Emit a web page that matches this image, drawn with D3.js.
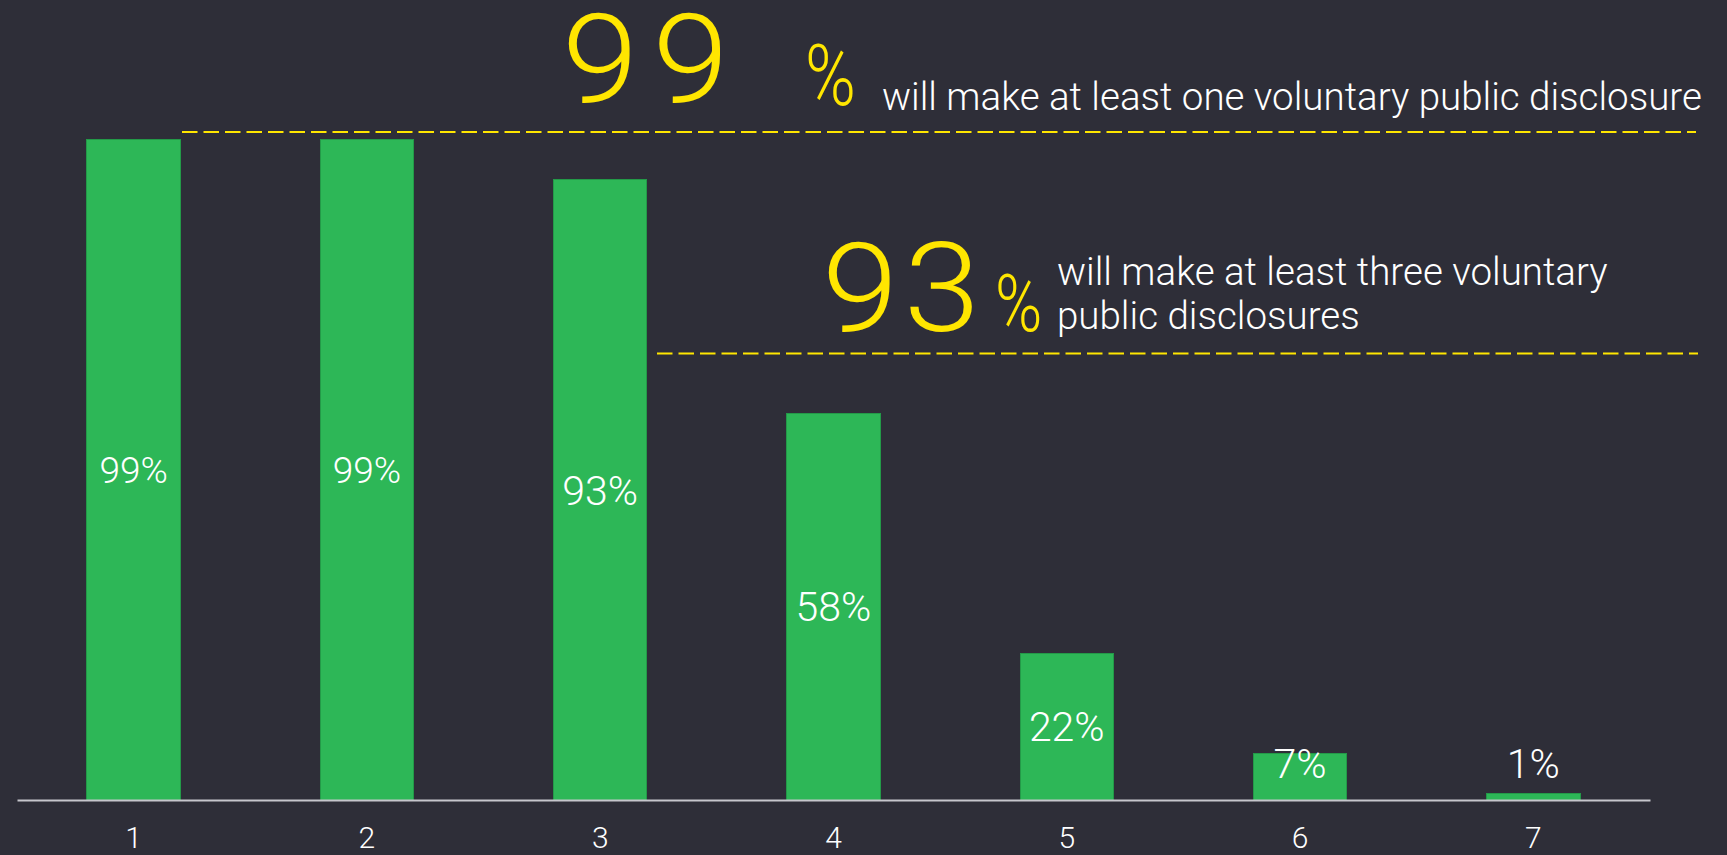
<!DOCTYPE html>
<html>
<head>
<meta charset="utf-8">
<script src="https://cdn.jsdelivr.net/npm/d3@7"></script>
<style>
  html, body { margin: 0; padding: 0; background: #2e2e38; }
  svg { display: block; }
  text { font-family: Roboto, "Liberation Sans", sans-serif; }
</style>
</head>
<body>
<svg id="chart" width="1727" height="855"></svg>
<script>
// Number of voluntary public disclosures (category) and share of companies making them
const categories = ["1", "2", "3", "4", "5", "6", "7"];
const shares = [99, 99, 93, 58, 22, 7, 1];

// Callout figures and their captions
const calloutValues = [99, 93];
const calloutTexts = [
  ["will make at least one voluntary public disclosure"],
  ["will make at least three voluntary", "public disclosures"]
];

const W = 1727, H = 855;
const BG = "#2e2e38", GREEN = "#2db757", YELLOW = "#ffe600", AXIS = "#c6c6cc", WHITE = "#ffffff";

const svg = d3.select("#chart");
svg.append("rect").attr("width", W).attr("height", H).attr("fill", BG);

const baseY = 800;
const x = d3.scaleBand().domain(categories).range([17, 1650]).paddingInner(0.6).paddingOuter(0.3);
const y = d3.scaleLinear().domain([0, 100]).range([baseY, baseY - 666.7]);

const rows = categories.map((c, i) => ({ c, v: shares[i] }));
const labelSize = v => (v >= 99 ? 37 : 41);

// Bars
svg.append("g").selectAll("rect").data(rows).join("rect")
  .attr("x", d => x(d.c))
  .attr("y", d => y(d.v))
  .attr("width", x.bandwidth())
  .attr("height", d => y(0) - y(d.v))
  .attr("fill", GREEN)
  .attr("stroke", "#239a48")
  .attr("stroke-width", 1)
  .attr("shape-rendering", "crispEdges");

// Value labels (centred in the bar, lifted above short bars)
svg.append("g").selectAll("text").data(rows).join("text")
  .attr("x", d => x(d.c) + x.bandwidth() / 2)
  .attr("y", d => {
    const mid = (y(d.v) + y(0)) / 2;
    return Math.min(mid, baseY - 37) + 0.356 * labelSize(d.v);
  })
  .attr("text-anchor", "middle")
  .attr("fill", WHITE)
  .attr("font-weight", 300)
  .attr("font-size", d => labelSize(d.v))
  .text(d => d.v + "%");

// Category axis
const axis = svg.append("g")
  .attr("transform", `translate(0,${baseY})`)
  .call(d3.axisBottom(x).tickSize(0).tickSizeOuter(0).tickPadding(27));
axis.select(".domain").attr("stroke", AXIS).attr("stroke-width", 2);
axis.selectAll(".tick text")
  .attr("fill", WHITE)
  .attr("font-size", 30)
  .attr("font-weight", 300)
  .attr("font-family", "Roboto, 'Liberation Sans', sans-serif");

// Callouts: big figure, percent sign, caption and dashed rule
const calloutLayout = [
  { numX: 562, numBase: 101.5, numSpacing: 13, pctX: 805, pctBase: 105, pctSize: 86, textX: 882, textBase: [109.5], ruleY: 132, ruleX0: 182, ruleX1: 1696 },
  { numX: 822, numBase: 330.5, numSpacing: 5, pctX: 995, pctBase: 330.5, pctSize: 80, textX: 1057, textBase: [285, 329], ruleY: 353.5, ruleX0: 657, ruleX1: 1698 }
];

calloutValues.forEach((v, i) => {
  const L = calloutLayout[i];
  const g = svg.append("g");
  g.append("text")
    .attr("transform", `translate(${L.numX},${L.numBase}) scale(1.1,1)`)
    .attr("fill", YELLOW)
    .attr("font-size", 125)
    .attr("font-weight", 300)
    .attr("letter-spacing", L.numSpacing)
    .text(v);
  g.append("text")
    .attr("transform", `translate(${L.pctX},${L.pctBase}) scale(0.8,1)`)
    .attr("fill", YELLOW)
    .attr("font-size", L.pctSize)
    .attr("font-weight", 300)
    .text("%");
  calloutTexts[i].forEach((line, j) => {
    g.append("text")
      .attr("x", L.textX).attr("y", L.textBase[j])
      .attr("fill", WHITE)
      .attr("font-size", 38.5)
      .attr("font-weight", 300)
      .text(line);
  });
  g.append("line")
    .attr("x1", L.ruleX0).attr("x2", L.ruleX1)
    .attr("y1", L.ruleY).attr("y2", L.ruleY)
    .attr("stroke", YELLOW)
    .attr("stroke-width", 2)
    .attr("stroke-dasharray", "15.5 6");
});
</script>
</body>
</html>
